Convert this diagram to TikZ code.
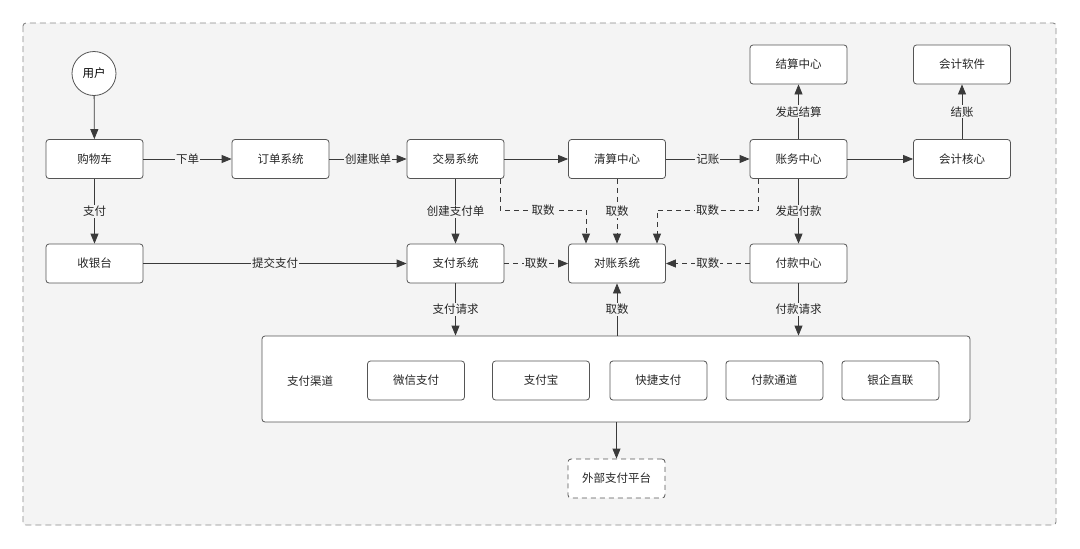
\documentclass[tikz,border=0pt]{standalone}
\usepackage{fontspec}
\setmainfont{Noto Sans CJK SC}
\usetikzlibrary{arrows.meta}
\definecolor{bgc}{HTML}{F4F4F4}
\definecolor{linec}{HTML}{3A3A3A}
\definecolor{boxc}{HTML}{555555}
\definecolor{framec}{HTML}{8A8A8A}
\tikzset{
  stdfont/.style={font=\fontsize{11.5}{12}\selectfont},
  box/.style={draw=boxc, fill=white, rounded corners=3pt, minimum width=97pt, minimum height=39pt, inner sep=0pt, line width=0.8pt, stdfont, text=black!85},
  smallbox/.style={box, minimum width=97pt},
  conn/.style={draw=linec, line width=0.8pt, -{Triangle[length=10pt,width=8pt]}},
  dconn/.style={conn, dash pattern=on 5pt off 4pt},
  lbl/.style={fill=bgc, inner sep=1pt, stdfont, text=black!85},
}
\begin{document}
\begin{tikzpicture}[x=1pt,y=-1pt]
\useasboundingbox (0,0) rectangle (1080,549);
\fill[white] (0,0) rectangle (1080,549);
\draw[framec, fill=bgc, dash pattern=on 6pt off 4pt, line width=0.9pt, rounded corners=3pt] (23,23) rectangle (1056,525);

\node[draw=boxc, fill=white, circle, minimum size=44pt, inner sep=0pt, line width=0.8pt, stdfont] (user) at (94,73.5) {用户};
\node[box] (cart) at (94.5,159) {购物车};
\node[box] (order) at (280.5,159) {订单系统};
\node[box] (trade) at (455.5,159) {交易系统};
\node[box] (clear) at (617,159) {清算中心};
\node[box] (acct) at (798.5,159) {账务中心};
\node[box] (core) at (962,159) {会计核心};
\node[box] (settle) at (798.5,64.5) {结算中心};
\node[box] (soft) at (962,64.5) {会计软件};
\node[box] (cashier) at (94.5,263.5) {收银台};
\node[box] (pay) at (455.5,263.5) {支付系统};
\node[box] (recon) at (617,263.5) {对账系统};
\node[box] (payout) at (798.5,263.5) {付款中心};

\node[box, minimum width=708pt, minimum height=86pt] (chan) at (616,379) {};
\node[stdfont, text=black!85] (chanlbl) at (310,381) {支付渠道};
\node[smallbox] (wx) at (416,380.5) {微信支付};
\node[smallbox] (ali) at (541,380.5) {支付宝};
\node[smallbox] (quick) at (658.4,380.5) {快捷支付};
\node[smallbox] (pchan) at (774.4,380.5) {付款通道};
\node[smallbox] (bank) at (890.4,380.5) {银企直联};
\node[box, dash pattern=on 5pt off 4pt] (ext) at (616.5,478.5) {外部支付平台};

\coordinate (lane) at (0,210);

\draw[conn] (user) -- (cart);
\draw[conn] (cart) -- node[lbl]{下单} (order);
\draw[conn] (order) -- node[lbl]{创建账单} (trade);
\draw[conn] (trade) -- (clear);
\draw[conn] (clear) -- node[lbl]{记账} (acct);
\draw[conn] (acct) -- (core);
\draw[conn] (acct) -- node[lbl]{发起结算} (settle);
\draw[conn] (core) -- node[lbl]{结账} (soft);
\draw[conn] (cart) -- node[lbl]{支付} (cashier);
\draw[conn] (cashier) -- node[lbl]{提交支付} (pay);
\draw[conn] (trade) -- node[lbl]{创建支付单} (pay);
\draw[conn] (acct) -- node[lbl]{发起付款} (payout);

\draw[dconn] (pay) -- node[lbl]{取数} (recon);
\draw[dconn] (payout) -- node[lbl]{取数} (recon);
\draw[dconn] (clear) -- node[lbl]{取数} (recon);
\draw[dconn] ([xshift=-4pt]trade.south east) -- ([xshift=-4pt]trade.south east |- lane) -- node[lbl, pos=0.5]{取数} ([xshift=-31pt]recon.north |- lane) -- ([xshift=-31pt]recon.north);
\draw[dconn] ([xshift=-40.5pt]acct.south) -- ([xshift=-40.5pt]acct.south |- lane) -- node[lbl, pos=0.5]{取数} ([xshift=40pt]recon.north |- lane) -- ([xshift=40pt]recon.north);

\draw[conn] (pay) -- node[lbl]{支付请求} (pay |- chan.north);
\draw[conn] (payout) -- node[lbl]{付款请求} (payout |- chan.north);
\draw[conn] (recon |- chan.north) -- node[lbl]{取数} (recon);
\draw[conn] (ext |- chan.south) -- (ext);
\end{tikzpicture}
\end{document}
